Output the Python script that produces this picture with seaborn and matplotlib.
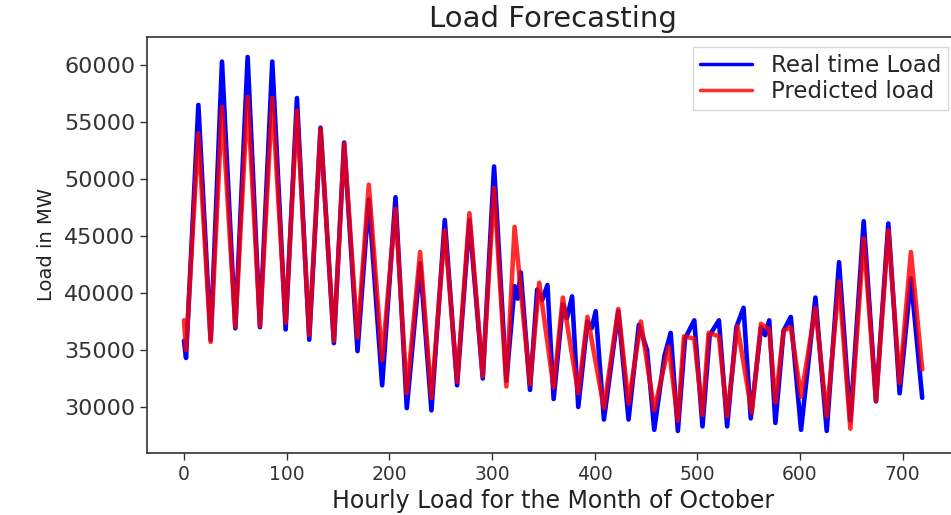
import matplotlib
matplotlib.use("Agg")
import matplotlib.pyplot as plt
import seaborn as sns

sns.set_theme(style="ticks")
plt.rcParams["font.family"] = ["DejaVu Sans"]

# hour of the month -> load (MW), read at peaks / troughs / shoulders
real_hours = [0, 2, 14, 26, 37, 50, 62, 74, 86, 99, 110, 122, 133, 146, 156, 169,
              180, 193, 206, 217, 230, 241, 254, 266, 278, 291, 302, 314,
              322, 325, 328, 337, 344, 349, 354, 360, 369, 373, 378, 384,
              393, 397, 401, 409, 423, 433, 443, 451, 458, 468, 474, 481,
              488, 497, 505, 512, 521, 529, 538, 545, 552, 562, 566, 570,
              576, 584, 591, 601, 615, 626, 638, 649, 662, 674, 686, 697,
              708, 719]
real_load = [35800, 34300, 56500, 35900, 60300, 36900, 60700, 37000, 60300, 36800,
             57100, 35900, 54500, 35600, 53200, 34900,
             48200, 31900, 48400, 29900, 42600, 29700, 46400, 31900, 46400, 32500,
             51100, 32300,
             40600, 39500, 41800, 31500, 40300, 39400, 40700, 30700, 39000, 37800,
             39700, 30000,
             37500, 36900, 38400, 28900, 38400, 28900, 37200, 35000, 28000, 34500,
             36500, 27900,
             36000, 37600, 28300, 36300, 37600, 28300, 37000, 38700, 29000, 37000,
             36300, 37600,
             28600, 36700, 37900, 28000, 39600, 27900, 42700, 28800, 46300, 30500,
             46100, 31200,
             41300, 30800]

pred_hours = [0, 2, 14, 26, 37, 50, 62, 74, 86, 99, 110, 122, 133, 146, 156, 169,
              180, 193, 206, 217, 230, 241, 254, 266, 278, 291, 302, 314,
              322, 337, 346, 360, 369, 384, 393, 409, 423, 433, 445, 458,
              472, 481, 487, 497, 505, 511, 521, 529, 539, 553, 562, 570,
              576, 584, 591, 601, 615, 626, 638, 649, 662, 674, 686, 697,
              708, 719]
pred_load = [37600, 35000, 54000, 35700, 56300, 37000, 57200, 37100, 57100, 37400,
             56000, 36300, 54400, 35800, 53100, 36100,
             49500, 34100, 47400, 31200, 43600, 30800, 45500, 32200, 47000, 32700,
             49200, 31800,
             45800, 32000, 40900, 31700, 39600, 31200, 37900, 29900, 38600, 30300,
             37500, 29700,
             35300, 28800, 36200, 36000, 29300, 36500, 36200, 29200, 37100, 29500,
             37300, 36800,
             30400, 36700, 37000, 30900, 38700, 29200, 41000, 28100, 44800, 30500,
             45500, 32100,
             43600, 33300]

fig = plt.figure(figsize=(9.51, 5.15), dpi=100)
ax = fig.add_axes([0.1546, 0.1204, 0.854, 0.8078])

sns.lineplot(x=real_hours, y=real_load, color="blue", lw=3.3,
             label="Real time Load", ax=ax)
sns.lineplot(x=pred_hours, y=pred_load, color="red", lw=3.3, alpha=0.82,
             label="Predicted load", ax=ax)

ax.set_xlim(-36, 755)
ax.set_ylim(25965, 62456)
ax.set_xticks([0, 100, 200, 300, 400, 500, 600, 700])
ax.set_yticks([30000, 35000, 40000, 45000, 50000, 55000, 60000])
ax.tick_params(axis="x", labelsize=13.5, length=5, width=1, colors="#333333")
ax.tick_params(axis="y", labelsize=16, length=5, width=1, colors="#333333")
for s in ax.spines.values():
    s.set_color("#333333")
    s.set_linewidth(1.2)

ax.set_title("Load Forecasting", fontsize=21, pad=7, color="#222222")
ax.set_xlabel("Hourly Load for the Month of October", fontsize=17, color="#222222")
ax.set_ylabel("Load in MW", fontsize=14, color="#222222", labelpad=6)

leg = ax.legend(loc="upper right", bbox_to_anchor=(948 / 951, 1 - 47 / 515),
                bbox_transform=fig.transFigure, borderaxespad=0, fontsize=16.5,
                handlelength=2.3, handletextpad=0.8, labelspacing=0.15,
                borderpad=0.3, frameon=True, fancybox=False, edgecolor="#cccccc")
for line in leg.get_lines():
    line.set_linewidth(2.5)

fig.savefig("out.png", dpi=100)
